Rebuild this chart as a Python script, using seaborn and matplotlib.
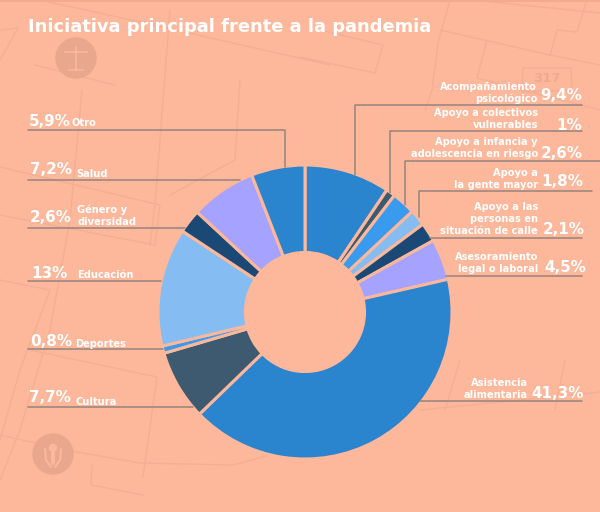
import matplotlib
matplotlib.use("Agg")
import matplotlib.pyplot as plt
from matplotlib.patches import Circle
import seaborn as sns

# Data
categories = ["Acompañamiento\npsicológico", "Apoyo a colectivos\nvulnerables",
              "Apoyo a infancia y\nadolescencia en riesgo", "Apoyo a\nla gente mayor",
              "Apoyo a las\npersonas en\nsituación de calle", "Asesoramiento\nlegal o laboral",
              "Asistencia\nalimentaria", "Cultura", "Deportes", "Educación",
              "Género y\ndiversidad", "Salud", "Otro"]
values = [9.4, 1, 2.6, 1.8, 2.1, 4.5, 41.3, 7.7, 0.8, 13, 2.6, 7.2, 5.9]
value_labels = ["9,4%", "1%", "2,6%", "1,8%", "2,1%", "4,5%", "41,3%",
                "7,7%", "0,8%", "13%", "2,6%", "7,2%", "5,9%"]

BG = "#FDB79B"
MAP = "#F4AE93"
ICON = "#E9A88E"
LEADER = "#97847C"
palette = sns.color_palette(["#2B84CE", "#3E5A70", "#3A9BEE", "#85BDF2", "#1B4975", "#A6A2FF"])

sns.set_theme(style="white")
plt.rcParams['font.family'] = ['DejaVu Sans']

W, H = 600, 512
fig = plt.figure(figsize=(W / 100, H / 100), dpi=100, facecolor=BG)

# Overlay in pixel coordinates for the map, leaders and text
bg = fig.add_axes([0, 0, 1, 1], facecolor=BG, zorder=0)
bg.set_xlim(0, W)
bg.set_ylim(H, 0)
bg.axis("off")

# Faint street map behind the chart
map_lines = [
    [(0, 30), (18, 28), (0, 60)],
    [(40, 0), (140, 22), (330, 65)],
    [(82, 90), (70, 220), (50, 330), (20, 430), (0, 480)],
    [(170, 10), (155, 205), (150, 245)],
    [(0, 167), (160, 205), (155, 245), (0, 215)],
    [(0, 280), (50, 290), (20, 370), (0, 440)],
    [(30, 350), (157, 377), (143, 477)],
    [(0, 435), (77, 452), (140, 463), (233, 465), (277, 453)],
    [(92, 465), (91, 485), (143, 495)],
    [(35, 65), (115, 85)],
    [(240, 80), (235, 160), (170, 195)],
    # top right
    [(300, 57), (375, 73), (383, 45), (320, 30)],
    [(450, 0), (438, 43), (432, 90), (425, 110)],
    [(440, 30), (550, 55), (600, 65)],
    [(473, 0), (600, 13)],
    [(487, 40), (477, 78), (600, 110)],
    [(587, 0), (577, 32), (557, 30), (550, 55)],
    # lower right
    [(460, 360), (445, 410)],
    [(565, 360), (555, 410)],
    [(420, 410), (600, 392)],
]
for pts in map_lines:
    bg.plot([p[0] for p in pts], [p[1] for p in pts], color=MAP, lw=1.0, zorder=1)
bg.axhline(0.5, color="#F3A88C", lw=1.2, zorder=1)

# Round icons and road shield
bg.add_patch(Circle((76, 58), 20, color=ICON, zorder=2))
bg.plot([76, 76], [47, 70], color=BG, lw=1.2, zorder=3)
bg.plot([65, 87], [52, 52], color=BG, lw=1.2, zorder=3)
bg.plot([69, 83], [70, 70], color=BG, lw=1.2, zorder=3)
bg.add_patch(Circle((53, 454), 20, color=ICON, zorder=2))
bg.add_patch(Circle((53, 448), 3.5, color=BG, zorder=3))
bg.plot([53, 53], [453, 463], color=BG, lw=3, zorder=3)
bg.plot([45, 46, 51], [449, 460, 467], color=BG, lw=1.5, zorder=3)
bg.plot([61, 60, 55], [449, 460, 467], color=BG, lw=1.5, zorder=3)
bg.plot([523, 571, 572, 522, 523], [68, 68, 90, 92, 68], color=MAP, lw=1.0, zorder=1)
bg.text(547, 79, "317", color="#EFA98E", fontsize=9.5, fontweight="bold", ha="center", va="center", zorder=1)

# Donut
ax = fig.add_axes([158 / W, (H - 459) / H, 294 / W, 294 / H], zorder=2)
ax.pie(values, colors=palette[:] * 3, startangle=90, counterclock=False, radius=1,
       wedgeprops=dict(width=0.595, edgecolor=BG, linewidth=2.2))
ax.set_xlim(-1, 1)
ax.set_ylim(-1, 1)
ax.patch.set_visible(False)

# Text and leaders on top
top = fig.add_axes([0, 0, 1, 1], zorder=3)
top.set_xlim(0, W)
top.set_ylim(H, 0)
top.axis("off")

leaders = [
    [(582, 105), (355, 105), (355, 175)],
    [(582, 131), (390, 131), (390, 193)],
    [(600, 160.5), (405, 160.5), (405, 205)],
    [(592, 191), (419, 191), (419, 217)],
    [(582, 238), (430, 238)],
    [(582, 276), (446, 276)],
    [(582, 401), (420, 401)],
    [(28, 407), (193, 407)],
    [(28, 349), (163, 349)],
    [(28, 281), (161, 281)],
    [(28, 228), (185, 228)],
    [(28, 180), (240, 180)],
    [(28, 130), (285, 130), (285, 167)],
]
for pts in leaders:
    top.plot([p[0] for p in pts], [p[1] for p in pts], color=LEADER, lw=1.1, zorder=1)

top.text(28, 27, "Iniciativa principal frente a la pandemia", color="white",
         fontsize=12.85, fontweight="bold", ha="left", va="center")

# anchor positions (pixels): label x, label centre y, value x, value centre y
label_x = [537, 538, 538, 538, 538, 538, 528, 76, 75, 77, 77, 76, 71]
label_y = [93, 119, 148, 179, 219, 263, 389.5, 402, 344, 275, 216, 174, 123]
value_x = [582, 582, 583, 583, 585, 586, 584, 29, 30, 31, 30, 30, 29]
value_y = [96, 125, 153, 182, 230, 267, 393, 397, 341, 273, 218, 170, 122]

for i, (cat, val) in enumerate(zip(categories, value_labels)):
    side = "right" if i < 7 else "left"
    top.text(label_x[i], label_y[i], cat, color="white", fontsize=7.1, fontweight="bold",
             ha=side, va="center", multialignment=side, linespacing=1.25)
    top.text(value_x[i], value_y[i], val, color="white", fontsize=10.9, fontweight="bold",
             ha=side, va="center")

fig.savefig("out.png", dpi=100, facecolor=BG)
